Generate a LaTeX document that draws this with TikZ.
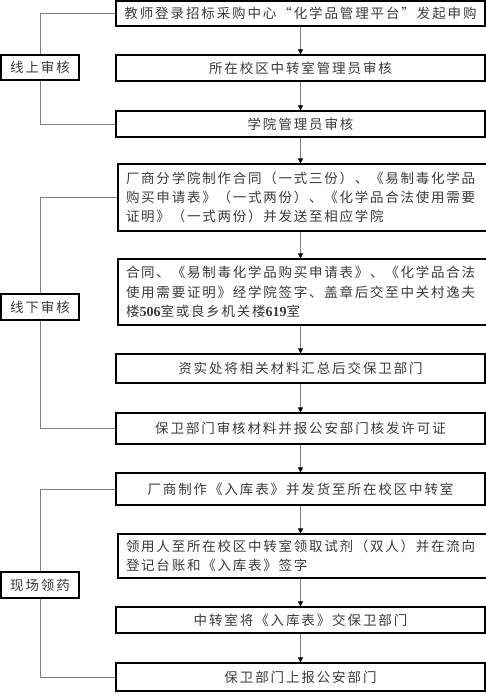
\documentclass[tikz,border=0pt]{standalone}
\usepackage{fontspec}
\usetikzlibrary{arrows.meta}
\newfontfamily\cjk[LetterSpace=14]{Noto Sans CJK SC}
\newfontfamily\cjkw[LetterSpace=13]{Noto Sans CJK SC}
\newfontfamily\tnr{Liberation Serif}
\definecolor{txt}{HTML}{3a3a3a}
\definecolor{ln}{HTML}{808080}
\begin{document}
\begin{tikzpicture}[x=1pt,y=-1pt,
  box/.style={draw=black,line width=1.1pt,minimum width=369pt,inner sep=0pt,text=txt,
    font=\cjk\fontsize{13.5}{19}\selectfont},
  mbox/.style={box,font=\cjkw\fontsize{13.5}{19.3}\selectfont,text width=353pt,align=left},
  lab/.style={draw=black,line width=1.1pt,minimum width=78pt,minimum height=25pt,inner sep=0pt,text=txt,
    font=\cjk\fontsize{13.5}{19}\selectfont},
  arr/.style={draw=ln,line width=0.8pt,-{Triangle[width=5pt,length=5pt,color=black]}},
  brk/.style={draw=ln,line width=0.9pt}]
\useasboundingbox (0,0) rectangle (486,696);
\node[box,minimum height=25pt] (b1) at (300.5,13.5) {教师登录招标采购中心“化学品管理平台”发起申购};
\node[box,minimum height=26pt] (b2) at (300.5,68) {所在校区中转室管理员审核};
\node[box,minimum height=26pt] (b3) at (300.5,124) {学院管理员审核};
\node[mbox,minimum height=67pt] (b4) at (302.5,197.5) {厂商分学院制作合同（一式三份）、《易制毒化学品\\购买申请表》（一式两份）、《化学品合法使用需要\\证明》（一式两份）并发送至相应学院};
\node[mbox,minimum height=66pt] (b5) at (302.5,292) {合同、《易制毒化学品购买申请表》、《化学品合法\\使用需要证明》经学院签字、盖章后交至中关村逸夫\\楼{\tnr\bfseries\fontsize{14}{19}\selectfont 506}室或良乡机关楼{\tnr\bfseries\fontsize{14}{19}\selectfont 619}室};
\node[box,minimum height=29pt] (b6) at (300.5,368.5) {资实处将相关材料汇总后交保卫部门};
\node[box,minimum height=31pt] (b7) at (300.5,428.5) {保卫部门审核材料并报公安部门核发许可证};
\node[box,minimum height=32pt] (b8) at (300.5,489) {厂商制作《入库表》并发货至所在校区中转室};
\node[mbox,minimum height=44pt] (b9) at (302.5,556) {领用人至所在校区中转室领取试剂（双人）并在流向\\登记台账和《入库表》签字};
\node[box,minimum height=26pt] (b10) at (300.5,620) {中转室将《入库表》交保卫部门};
\node[box,minimum height=28pt] (b11) at (300.5,677) {保卫部门上报公安部门};
\node[lab] (l1) at (40,67.5) {线上审核};
\node[lab,minimum height=26pt] (l2) at (40,307) {线下审核};
\node[lab,minimum height=26pt] (l3) at (40,585) {现场领药};
\foreach \a/\b in {b1/b2,b2/b3,b3/b4,b4/b5,b5/b6,b6/b7,b7/b8,b8/b9,b9/b10,b10/b11}
  \draw[arr] (\a.south -| b1.south) -- (\b.north -| b1.south);
\draw[brk] (l1.north) |- (b1.west);
\draw[brk] (l1.south) |- (b3.west);
\draw[brk] (l2.north) |- (b4.west);
\draw[brk] (l2.south) |- (b7.west);
\draw[brk] (l3.north) |- (b8.west);
\draw[brk] (l3.south) |- (b11.west);
\end{tikzpicture}
\end{document}
